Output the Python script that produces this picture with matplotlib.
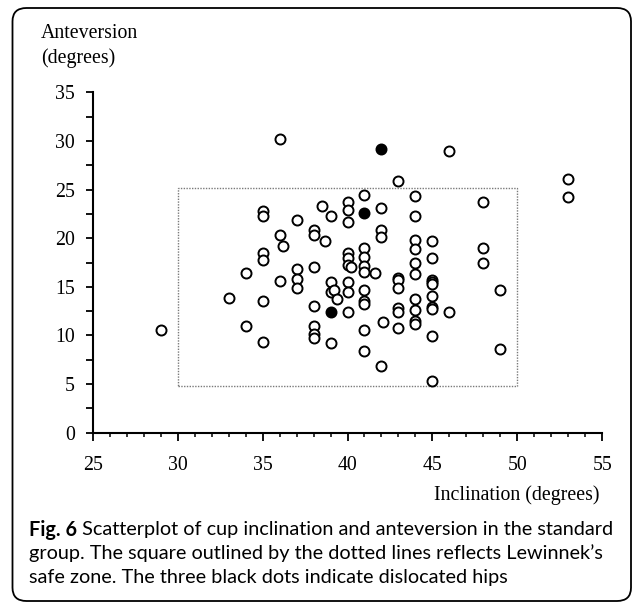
import matplotlib.pyplot as plt
from matplotlib.patches import Rectangle, FancyBboxPatch
from matplotlib.ticker import MultipleLocator

# cup inclination / anteversion (degrees)
incl_open = [29, 33, 34, 34, 35, 35, 35, 35, 35, 35,
             36, 36, 36.2, 36, 37, 37, 37, 37,
             38, 38, 38, 38, 38, 38, 38, 38.5, 38.7,
             39, 39, 39, 39, 39.2, 39.4,
             40, 40, 40, 40, 40, 40, 40.2, 40, 40, 40,
             41, 41, 41, 41, 41, 41, 41, 41, 41, 41, 41.6,
             42, 42, 42, 42.1, 42,
             43, 43, 43, 43, 43, 43, 43,
             44, 44, 44, 44, 44, 44, 44, 44, 44, 44,
             45, 45, 45, 45, 45, 45, 45, 45, 45, 45,
             46, 46, 48, 48, 48, 49, 49, 53, 53]
ante_open = [10.6, 13.9, 16.4, 11.0, 22.8, 22.25, 18.45, 17.75, 13.55, 9.35,
             30.2, 20.3, 19.2, 15.6, 21.9, 16.8, 15.8, 14.9,
             20.8, 20.3, 17.0, 13.0, 11.0, 10.1, 9.7, 23.35, 19.7,
             22.3, 15.5, 14.45, 9.2, 14.65, 13.75,
             23.75, 22.85, 21.7, 18.45, 17.95, 17.25, 17.0, 15.5, 14.45, 12.45,
             24.45, 19.0, 18.1, 17.1, 16.5, 14.65, 13.55, 13.2, 10.6, 8.45, 16.45,
             23.15, 20.8, 20.15, 11.4, 6.85,
             25.9, 15.9, 15.65, 14.9, 12.8, 12.45, 10.8,
             24.3, 22.3, 19.8, 18.85, 17.5, 16.3, 13.7, 12.6, 11.5, 11.15,
             19.7, 17.95, 15.75, 15.5, 15.3, 14.05, 12.95, 12.75, 9.9, 5.35,
             28.95, 12.45, 23.7, 19.0, 17.5, 14.65, 8.65, 26.1, 24.25]

# dislocated hips (black dots)
incl_disl = [42, 41, 39]
ante_disl = [29.15, 22.6, 12.4]

# Lewinnek safe zone as drawn
zone_incl = [30, 50]
zone_ante = [4.8, 25.2]

x_ticks = [25, 30, 35, 40, 45, 50, 55]
y_ticks = [0, 5, 10, 15, 20, 25, 30, 35]

W, H = 635, 603
fig = plt.figure(figsize=(W / 100, H / 100), dpi=100)

serif = "Liberation Serif"
serif_size = 14.3

ax = fig.add_axes([92.7 / W, 1 - 432.7 / H, (602.3 - 92.7) / W, (432.7 - 92.3) / H])
ax.set_xlim(x_ticks[0], x_ticks[-1])
ax.set_ylim(y_ticks[0], y_ticks[-1])

# safe zone rectangle
ax.add_patch(Rectangle((zone_incl[0], zone_ante[0]), zone_incl[1] - zone_incl[0],
                       zone_ante[1] - zone_ante[0], fill=False, edgecolor="#7a7a7a",
                       linestyle=(0, (1, 1)), linewidth=1.0, zorder=1))

ax.scatter(incl_open, ante_open, s=52, facecolors="white", edgecolors="black",
           linewidths=1.4, zorder=3, clip_on=False)
ax.scatter(incl_disl, ante_disl, s=52, facecolors="black", edgecolors="black",
           linewidths=1.4, zorder=4, clip_on=False)

for side in ["top", "right"]:
    ax.spines[side].set_visible(False)
for side in ["left", "bottom"]:
    ax.spines[side].set_linewidth(1.5)

ax.set_xticks(x_ticks)
ax.set_yticks(y_ticks)
ax.xaxis.set_minor_locator(MultipleLocator(1))
ax.yaxis.set_minor_locator(MultipleLocator(2.5))
ax.tick_params(axis="x", which="major", direction="out", length=5.5, width=1.3, pad=11)
ax.tick_params(axis="x", which="minor", direction="out", length=3, width=1.1)
ax.tick_params(axis="y", which="both", direction="out", length=5, width=1.3, pad=8)
for lab in ax.get_xticklabels() + ax.get_yticklabels():
    lab.set_fontfamily(serif)
    lab.set_fontsize(serif_size)

# axis titles
fig.text(41 / W, 1 - 46 / H, "Anteversion\n(degrees)", family=serif, fontsize=serif_size,
         ha="left", va="center", linespacing=1.3)
fig.text(599 / W, 1 - 495 / H, "Inclination (degrees)", family=serif, fontsize=serif_size,
         ha="right", va="center")

# caption
cap_font = "Lato"
cap_size = 14.3
cap_x = 29 / W
line_y = [1 - 530 / H, 1 - 553 / H, 1 - 577 / H]
bold = fig.text(cap_x, line_y[0], "Fig. 6", family=cap_font, fontsize=cap_size,
                fontweight="bold", ha="left", va="center")
fig.canvas.draw()
bb = bold.get_window_extent(renderer=fig.canvas.get_renderer())
x_after = bb.x1 / fig.bbox.width
fig.text(x_after, line_y[0], " Scatterplot of cup inclination and anteversion in the standard",
         family=cap_font, fontsize=cap_size, ha="left", va="center")
fig.text(cap_x, line_y[1], "group. The square outlined by the dotted lines reflects Lewinnek\u2019s",
         family=cap_font, fontsize=cap_size, ha="left", va="center")
fig.text(cap_x, line_y[2], "safe zone. The three black dots indicate dislocated hips",
         family=cap_font, fontsize=cap_size, ha="left", va="center")

# rounded frame around the figure
fig.patches.append(FancyBboxPatch((12.5 / W, 2 / H), (631 - 12.5) / W, (601 - 8) / H,
                                  boxstyle="round,pad=0,rounding_size=0.022",
                                  transform=fig.transFigure, fill=False,
                                  edgecolor="black", linewidth=1.3))

fig.savefig("out.png", dpi=100)
